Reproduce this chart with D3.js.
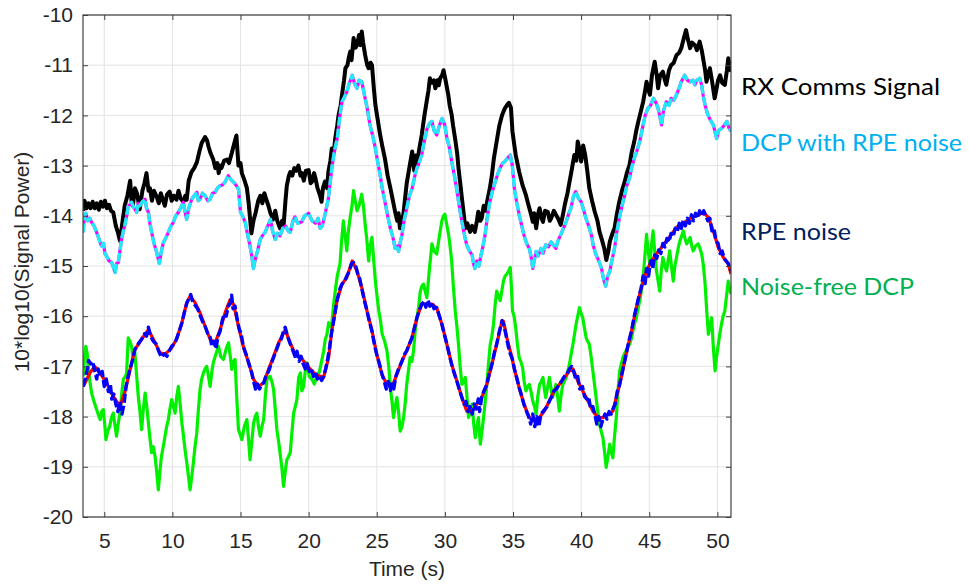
<!DOCTYPE html>
<html>
<head>
<meta charset="utf-8">
<script src="https://d3js.org/d3.v7.min.js"></script>
<style>
  body { margin: 0; background: #fff; }
  svg { display: block; }
</style>
</head>
<body>
<script>
var W = 969, H = 584;
var margin = {left: 83, top: 15, right: 238, bottom: 67};
var width = W - margin.left - margin.right,   // 648
  height = H - margin.top - margin.bottom;    // 502

// tick values
var xTicks = [5, 10, 15, 20, 25, 30, 35, 40, 45, 50];
var yTicks = [-20, -19, -18, -17, -16, -15, -14, -13, -12, -11, -10];

// RX Comms Signal (black) [time s, dB]
var rxComms = [[3.45,-13.9],[3.55,-13.7],[3.7,-13.85],[3.85,-13.75],[4.0,-13.85],[4.15,-13.72],[4.3,-13.85],[4.45,-13.75],[4.6,-13.88],[4.75,-13.72],[4.9,-13.82],[5.05,-13.7],[5.2,-13.85],[5.35,-13.78],[5.5,-13.9],[5.66,-13.93],[5.85,-14.2],[6.0,-14.33],[6.15,-14.5],[6.3,-14.2],[6.5,-13.8],[6.7,-13.6],[6.9,-13.3],[7.0,-13.7],[7.1,-13.8],[7.25,-13.45],[7.4,-13.55],[7.6,-13.87],[7.8,-13.5],[7.95,-13.35],[8.1,-13.15],[8.25,-13.5],[8.35,-13.45],[8.5,-13.7],[8.65,-13.5],[8.85,-13.62],[9.0,-13.75],[9.15,-13.55],[9.3,-13.68],[9.45,-13.8],[9.6,-13.58],[9.8,-13.52],[9.95,-13.7],[10.1,-13.6],[10.3,-13.68],[10.45,-13.5],[10.6,-13.65],[10.8,-13.72],[10.95,-13.6],[11.05,-13.68],[11.2,-13.3],[11.4,-13.13],[11.6,-13.05],[11.8,-12.93],[12.0,-12.7],[12.15,-12.55],[12.4,-12.43],[12.55,-12.5],[12.65,-12.62],[12.8,-12.75],[13.0,-12.88],[13.15,-13.05],[13.3,-12.95],[13.4,-13.15],[13.5,-13.0],[13.6,-13.05],[13.8,-12.9],[14.0,-12.88],[14.15,-12.95],[14.36,-12.75],[14.5,-12.6],[14.7,-12.4],[14.85,-13.0],[15.0,-12.95],[15.1,-13.15],[15.3,-13.3],[15.47,-13.45],[15.6,-13.75],[15.7,-14.05],[15.8,-14.35],[15.95,-14.1],[16.1,-13.95],[16.3,-13.7],[16.45,-13.6],[16.6,-13.75],[16.75,-13.55],[16.9,-13.68],[17.05,-13.8],[17.2,-13.95],[17.4,-14.07],[17.55,-13.9],[17.7,-14.1],[17.9,-14.25],[18.05,-14.1],[18.16,-14.2],[18.3,-13.7],[18.4,-13.4],[18.55,-13.2],[18.65,-13.13],[18.8,-13.2],[18.95,-13.05],[19.1,-13.1],[19.25,-13.0],[19.4,-13.2],[19.5,-13.15],[19.65,-13.3],[19.8,-13.1],[20.0,-13.09],[20.15,-13.35],[20.25,-13.32],[20.4,-13.15],[20.5,-13.25],[20.65,-13.45],[20.85,-13.6],[20.95,-13.72],[21.05,-13.45],[21.2,-13.32],[21.35,-13.45],[21.45,-13.12],[21.6,-12.9],[21.7,-12.66],[21.85,-12.75],[21.95,-12.46],[22.1,-12.2],[22.2,-11.99],[22.35,-11.8],[22.45,-11.59],[22.6,-11.3],[22.7,-11.06],[22.85,-11.0],[22.95,-10.85],[23.05,-10.73],[23.15,-10.9],[23.3,-10.46],[23.45,-10.65],[23.55,-10.6],[23.7,-10.4],[23.8,-10.6],[23.9,-10.33],[24.0,-10.55],[24.15,-10.8],[24.3,-11.0],[24.4,-11.06],[24.55,-10.95],[24.65,-11.0],[24.8,-11.5],[24.9,-11.79],[25.05,-12.05],[25.25,-12.39],[25.4,-12.6],[25.6,-12.86],[25.8,-13.2],[26.0,-13.45],[26.15,-13.65],[26.35,-13.92],[26.5,-14.1],[26.6,-13.95],[26.7,-14.25],[26.85,-14.05],[26.95,-13.98],[27.1,-13.6],[27.2,-13.35],[27.3,-13.19],[27.45,-12.95],[27.6,-12.72],[27.75,-13.1],[27.85,-12.8],[27.95,-12.99],[28.1,-12.7],[28.3,-12.39],[28.5,-12.0],[28.7,-11.66],[28.8,-11.5],[28.9,-11.26],[29.05,-11.35],[29.2,-11.3],[29.3,-11.46],[29.45,-11.3],[29.55,-11.4],[29.65,-11.26],[29.8,-11.2],[29.9,-11.1],[30.05,-11.3],[30.25,-11.59],[30.35,-11.8],[30.5,-11.99],[30.6,-12.2],[30.75,-12.46],[30.9,-12.75],[31.0,-13.05],[31.15,-13.4],[31.25,-13.65],[31.4,-14.0],[31.5,-14.25],[31.65,-14.15],[31.85,-14.32],[32.0,-14.2],[32.2,-14.32],[32.35,-14.1],[32.45,-13.92],[32.6,-14.1],[32.7,-14.05],[32.85,-13.8],[33.0,-13.9],[33.1,-13.72],[33.3,-13.45],[33.45,-13.19],[33.6,-12.85],[33.8,-12.52],[34.0,-12.2],[34.2,-11.99],[34.4,-11.86],[34.55,-11.8],[34.7,-11.75],[34.85,-11.85],[34.96,-12.32],[35.1,-12.6],[35.2,-12.79],[35.45,-13.12],[35.7,-13.39],[35.95,-13.59],[36.1,-13.75],[36.2,-13.85],[36.35,-14.0],[36.45,-14.12],[36.55,-13.95],[36.7,-14.25],[36.85,-13.95],[36.95,-13.85],[37.1,-14.05],[37.2,-14.12],[37.35,-13.9],[37.55,-13.92],[37.7,-14.1],[37.8,-14.05],[38.0,-13.9],[38.15,-13.98],[38.3,-14.05],[38.5,-14.18],[38.65,-14.0],[38.8,-13.78],[39.0,-13.55],[39.15,-13.32],[39.3,-13.1],[39.5,-12.79],[39.65,-12.9],[39.75,-12.52],[39.9,-12.7],[40.0,-12.92],[40.15,-12.6],[40.3,-12.79],[40.45,-13.1],[40.6,-13.45],[40.8,-13.7],[41.0,-13.92],[41.2,-14.1],[41.35,-14.32],[41.55,-14.5],[41.7,-14.65],[41.85,-14.88],[42.0,-14.7],[42.1,-14.52],[42.3,-14.35],[42.45,-14.25],[42.6,-14.0],[42.8,-13.72],[43.0,-13.5],[43.2,-13.32],[43.35,-13.15],[43.55,-12.99],[43.7,-12.75],[43.9,-12.52],[44.05,-12.3],[44.2,-12.12],[44.4,-11.9],[44.55,-11.73],[44.7,-11.5],[44.8,-11.33],[44.95,-11.5],[45.05,-11.59],[45.2,-11.2],[45.4,-10.93],[45.55,-11.2],[45.65,-11.46],[45.8,-11.2],[46.0,-11.13],[46.15,-11.3],[46.25,-11.39],[46.45,-11.1],[46.6,-11.0],[46.8,-10.95],[47.0,-10.8],[47.2,-10.75],[47.35,-10.66],[47.55,-10.45],[47.7,-10.3],[47.85,-10.5],[48.0,-10.66],[48.15,-10.55],[48.35,-10.6],[48.5,-10.7],[48.7,-10.53],[48.85,-10.7],[48.95,-10.86],[49.1,-11.1],[49.2,-11.33],[49.35,-11.15],[49.45,-11.06],[49.6,-11.3],[49.8,-11.66],[49.95,-11.45],[50.05,-11.3],[50.2,-11.2],[50.35,-11.35],[50.55,-11.39],[50.7,-11.1],[50.8,-10.86],[50.9,-11.0],[51.0,-11.13]];

// DCP with RPE noise (magenta solid under cyan dashed)
var dcpRpe = [[3.45,-14.33],[3.55,-14.0],[3.65,-13.95],[3.8,-14.1],[3.95,-14.05],[4.07,-14.13],[4.25,-14.2],[4.44,-14.33],[4.6,-14.45],[4.8,-14.6],[4.95,-14.55],[5.05,-14.75],[5.17,-14.8],[5.35,-14.9],[5.54,-14.93],[5.7,-15.05],[5.8,-15.13],[5.9,-14.95],[6.03,-14.93],[6.15,-14.7],[6.27,-14.47],[6.4,-14.3],[6.5,-14.2],[6.65,-14.0],[6.76,-13.8],[6.9,-13.78],[7.0,-13.73],[7.2,-13.85],[7.38,-13.93],[7.5,-13.75],[7.6,-13.8],[7.8,-13.72],[8.0,-13.67],[8.1,-13.85],[8.24,-13.93],[8.35,-14.15],[8.48,-14.33],[8.65,-14.55],[8.85,-14.73],[8.95,-14.85],[9.04,-14.95],[9.2,-14.7],[9.34,-14.53],[9.5,-14.45],[9.7,-14.33],[9.9,-14.2],[10.07,-14.13],[10.25,-14.0],[10.44,-13.93],[10.6,-13.85],[10.8,-13.73],[10.95,-13.95],[11.05,-14.07],[11.2,-13.85],[11.42,-13.67],[11.6,-13.6],[11.8,-13.53],[11.9,-13.7],[12.03,-13.67],[12.2,-13.55],[12.4,-13.6],[12.6,-13.7],[12.77,-13.67],[12.95,-13.55],[13.14,-13.53],[13.3,-13.45],[13.5,-13.4],[13.7,-13.38],[13.87,-13.33],[14.0,-13.25],[14.1,-13.2],[14.3,-13.28],[14.5,-13.33],[14.7,-13.4],[14.85,-13.47],[15.0,-13.93],[15.15,-14.0],[15.35,-14.13],[15.5,-14.35],[15.7,-14.6],[15.85,-14.85],[15.95,-15.05],[16.08,-14.87],[16.25,-14.7],[16.45,-14.47],[16.6,-14.4],[16.8,-14.33],[17.0,-14.2],[17.2,-14.07],[17.35,-14.3],[17.55,-14.47],[17.7,-14.35],[17.9,-14.4],[18.1,-14.25],[18.3,-14.2],[18.5,-14.3],[18.65,-14.33],[18.85,-14.1],[19.0,-14.02],[19.2,-14.15],[19.5,-14.12],[19.7,-14.0],[20.0,-13.95],[20.25,-14.1],[20.5,-14.15],[20.7,-14.05],[20.85,-14.25],[21.0,-14.2],[21.2,-13.98],[21.45,-13.65],[21.7,-13.05],[21.9,-12.7],[22.1,-12.46],[22.3,-12.0],[22.45,-11.73],[22.6,-11.65],[22.8,-11.53],[23.0,-11.35],[23.2,-11.2],[23.35,-11.35],[23.55,-11.46],[23.7,-11.3],[23.9,-11.33],[24.1,-11.6],[24.3,-11.86],[24.5,-12.19],[24.7,-12.4],[24.9,-12.66],[25.05,-12.9],[25.25,-13.19],[25.4,-13.45],[25.6,-13.72],[25.8,-14.0],[26.0,-14.25],[26.2,-14.45],[26.35,-14.65],[26.5,-14.6],[26.6,-14.71],[26.75,-14.5],[26.85,-14.38],[27.0,-14.1],[27.2,-13.85],[27.4,-13.6],[27.6,-13.45],[27.8,-13.2],[27.95,-13.05],[28.1,-12.95],[28.3,-12.79],[28.5,-12.5],[28.7,-12.26],[28.9,-12.15],[29.05,-12.12],[29.2,-12.3],[29.4,-12.39],[29.6,-12.2],[29.8,-12.06],[30.0,-12.2],[30.15,-12.46],[30.3,-12.6],[30.5,-12.92],[30.7,-13.2],[30.9,-13.52],[31.05,-13.8],[31.25,-14.12],[31.45,-14.4],[31.6,-14.58],[31.8,-14.7],[32.0,-14.78],[32.1,-14.95],[32.2,-15.05],[32.35,-14.9],[32.5,-15.0],[32.6,-14.85],[32.8,-14.6],[32.95,-14.38],[33.1,-14.05],[33.3,-13.72],[33.5,-13.5],[33.7,-13.32],[33.9,-13.15],[34.05,-13.05],[34.25,-12.95],[34.4,-12.92],[34.6,-12.85],[34.8,-12.79],[34.95,-13.0],[35.1,-13.45],[35.25,-13.7],[35.45,-13.98],[35.6,-14.15],[35.8,-14.38],[36.0,-14.55],[36.2,-14.65],[36.35,-14.85],[36.45,-15.05],[36.55,-14.9],[36.7,-14.71],[36.85,-14.8],[37.05,-14.65],[37.2,-14.75],[37.4,-14.58],[37.6,-14.62],[37.8,-14.52],[38.0,-14.6],[38.15,-14.65],[38.3,-14.5],[38.5,-14.38],[38.7,-14.25],[38.9,-14.12],[39.1,-13.95],[39.25,-13.85],[39.45,-13.6],[39.6,-13.52],[39.8,-13.65],[40.0,-13.72],[40.15,-13.85],[40.35,-14.05],[40.55,-14.2],[40.75,-14.38],[40.9,-14.6],[41.1,-14.78],[41.3,-14.9],[41.5,-15.05],[41.6,-15.2],[41.7,-15.31],[41.8,-15.4],[41.95,-15.2],[42.1,-15.11],[42.25,-14.9],[42.45,-14.65],[42.6,-14.35],[42.8,-14.05],[43.0,-13.8],[43.2,-13.59],[43.35,-13.4],[43.55,-13.25],[43.7,-13.05],[43.9,-12.86],[44.1,-12.7],[44.3,-12.52],[44.55,-12.19],[44.7,-12.0],[44.9,-11.86],[45.1,-11.8],[45.3,-11.66],[45.5,-11.75],[45.65,-11.86],[45.8,-12.05],[45.9,-12.19],[46.05,-11.9],[46.25,-11.73],[46.45,-11.8],[46.6,-11.66],[46.8,-11.7],[47.0,-11.59],[47.2,-11.45],[47.35,-11.33],[47.5,-11.25],[47.6,-11.2],[47.8,-11.3],[48.0,-11.33],[48.2,-11.3],[48.35,-11.39],[48.5,-11.3],[48.7,-11.26],[48.85,-11.4],[48.95,-11.59],[49.1,-11.8],[49.3,-11.99],[49.5,-12.1],[49.7,-12.19],[49.85,-12.35],[49.95,-12.46],[50.1,-12.3],[50.3,-12.26],[50.5,-12.2],[50.7,-12.12],[50.85,-12.25],[51.0,-12.32]];

// Noise-free DCP (green)
var noiseFree = [[3.45,-17.2],[3.55,-16.8],[3.65,-16.6],[3.75,-16.75],[3.82,-17.0],[3.95,-17.3],[4.07,-17.53],[4.25,-17.7],[4.44,-17.86],[4.55,-17.95],[4.7,-18.06],[4.82,-17.9],[4.93,-17.86],[5.05,-18.2],[5.12,-18.46],[5.25,-18.3],[5.4,-18.19],[5.55,-18.0],[5.66,-17.93],[5.8,-18.2],[5.9,-18.39],[6.05,-18.1],[6.15,-17.93],[6.3,-17.5],[6.4,-17.26],[6.55,-17.2],[6.64,-17.13],[6.76,-16.43],[6.88,-16.5],[7.0,-16.6],[7.12,-16.85],[7.25,-16.73],[7.38,-17.2],[7.5,-17.6],[7.62,-17.9],[7.74,-18.26],[7.85,-17.9],[8.0,-17.53],[8.12,-17.8],[8.24,-18.13],[8.36,-18.45],[8.48,-18.72],[8.6,-18.6],[8.73,-18.79],[8.85,-19.1],[8.97,-19.46],[9.08,-19.1],[9.2,-18.79],[9.33,-18.6],[9.46,-18.39],[9.58,-18.2],[9.7,-18.06],[9.82,-17.85],[9.95,-17.66],[10.08,-17.8],[10.2,-17.93],[10.32,-17.6],[10.44,-17.4],[10.57,-17.75],[10.7,-18.13],[10.82,-18.4],[10.93,-18.66],[11.05,-18.9],[11.18,-19.19],[11.3,-19.46],[11.42,-19.2],[11.54,-18.92],[11.66,-18.6],[11.79,-18.33],[11.9,-17.9],[12.03,-17.46],[12.15,-17.25],[12.28,-17.13],[12.4,-17.05],[12.52,-17.0],[12.65,-17.2],[12.77,-17.4],[12.9,-17.1],[13.0,-16.93],[13.2,-16.75],[13.38,-16.6],[13.55,-16.8],[13.75,-16.86],[13.95,-16.65],[14.12,-16.53],[14.25,-16.8],[14.36,-17.06],[14.48,-16.9],[14.6,-16.86],[14.72,-17.6],[14.85,-18.26],[14.97,-18.35],[15.1,-18.46],[15.28,-18.2],[15.47,-18.06],[15.6,-18.5],[15.7,-18.86],[15.83,-18.5],[15.96,-18.13],[16.08,-18.0],[16.2,-17.93],[16.32,-18.2],[16.45,-18.39],[16.57,-18.2],[16.7,-18.06],[16.82,-17.6],[16.94,-17.26],[17.06,-17.22],[17.18,-17.2],[17.3,-17.3],[17.43,-17.46],[17.55,-17.85],[17.67,-18.26],[17.8,-18.5],[17.9,-18.72],[18.03,-19.0],[18.16,-19.39],[18.28,-19.1],[18.4,-18.86],[18.52,-18.8],[18.65,-18.72],[18.78,-18.3],[18.9,-17.93],[19.02,-17.8],[19.14,-17.66],[19.27,-17.22],[19.4,-17.13],[19.5,-17.49],[19.63,-17.4],[19.75,-17.1],[19.88,-16.93],[20.05,-17.2],[20.25,-17.26],[20.42,-17.35],[20.6,-17.2],[20.8,-17.1],[20.98,-16.86],[21.1,-16.7],[21.22,-16.46],[21.35,-16.36],[21.47,-16.13],[21.6,-16.2],[21.7,-16.16],[21.82,-15.8],[21.95,-15.5],[22.1,-15.2],[22.3,-14.96],[22.42,-14.5],[22.55,-14.1],[22.68,-14.4],[22.8,-14.7],[22.92,-14.3],[23.05,-14.03],[23.18,-13.8],[23.3,-13.5],[23.42,-13.7],[23.55,-13.9],[23.7,-13.8],[23.9,-13.57],[24.02,-13.8],[24.15,-14.17],[24.28,-14.5],[24.4,-14.9],[24.52,-14.6],[24.65,-14.43],[24.78,-14.9],[24.9,-15.3],[25.02,-15.6],[25.15,-15.89],[25.28,-16.1],[25.4,-16.36],[25.58,-16.5],[25.75,-16.69],[25.88,-17.0],[26.0,-17.42],[26.12,-17.7],[26.23,-18.02],[26.35,-17.8],[26.48,-17.62],[26.6,-17.9],[26.72,-18.29],[26.85,-18.2],[26.97,-18.02],[27.1,-17.7],[27.2,-17.36],[27.32,-17.1],[27.45,-16.82],[27.58,-16.9],[27.7,-16.69],[27.82,-16.3],[27.95,-16.03],[28.08,-15.8],[28.2,-15.5],[28.32,-15.4],[28.43,-15.36],[28.55,-15.5],[28.68,-15.63],[28.85,-15.1],[29.05,-14.56],[29.2,-14.7],[29.4,-14.76],[29.6,-14.4],[29.78,-14.1],[29.9,-14.0],[30.0,-13.97],[30.12,-14.15],[30.27,-14.37],[30.38,-14.6],[30.5,-14.9],[30.62,-15.4],[30.76,-15.89],[30.88,-16.2],[31.0,-16.56],[31.12,-17.0],[31.25,-17.36],[31.38,-17.3],[31.5,-17.22],[31.62,-17.6],[31.74,-18.02],[31.87,-17.9],[32.0,-17.75],[32.1,-18.1],[32.23,-18.42],[32.35,-18.2],[32.47,-18.02],[32.53,-18.3],[32.6,-18.55],[32.72,-18.3],[32.84,-18.02],[32.96,-17.7],[33.08,-17.36],[33.2,-16.95],[33.33,-16.56],[33.45,-16.4],[33.57,-16.16],[33.68,-15.8],[33.8,-15.5],[33.93,-15.6],[34.06,-15.69],[34.18,-15.5],[34.3,-15.3],[34.42,-15.2],[34.55,-15.16],[34.68,-15.1],[34.8,-15.03],[34.9,-15.5],[34.96,-15.89],[35.08,-16.0],[35.2,-16.23],[35.32,-16.55],[35.45,-16.82],[35.57,-16.9],[35.7,-17.02],[35.82,-17.3],[35.95,-17.49],[36.08,-17.4],[36.2,-17.36],[36.32,-17.5],[36.45,-17.69],[36.58,-17.8],[36.7,-17.95],[36.82,-17.6],[36.95,-17.36],[37.08,-17.3],[37.2,-17.22],[37.3,-17.45],[37.4,-17.62],[37.55,-17.4],[37.67,-17.22],[37.8,-17.45],[37.9,-17.62],[38.02,-17.5],[38.15,-17.36],[38.28,-17.6],[38.4,-17.89],[38.52,-17.6],[38.65,-17.36],[38.77,-17.3],[38.9,-17.22],[39.02,-17.1],[39.14,-16.96],[39.27,-16.75],[39.4,-16.56],[39.52,-16.35],[39.63,-16.16],[39.75,-16.0],[39.88,-15.83],[40.0,-15.95],[40.12,-16.03],[40.25,-16.25],[40.37,-16.43],[40.48,-16.5],[40.6,-16.56],[40.73,-16.8],[40.86,-17.09],[40.98,-17.35],[41.1,-17.62],[41.22,-17.9],[41.35,-18.15],[41.48,-18.3],[41.6,-18.42],[41.72,-18.7],[41.84,-19.01],[41.97,-18.8],[42.1,-18.55],[42.22,-18.7],[42.33,-18.82],[42.45,-18.4],[42.58,-18.02],[42.7,-17.5],[42.83,-17.09],[42.95,-16.95],[43.07,-16.82],[43.18,-16.75],[43.3,-16.69],[43.43,-16.6],[43.56,-16.56],[43.68,-16.45],[43.8,-16.3],[43.92,-16.15],[44.05,-16.03],[44.18,-15.85],[44.3,-15.69],[44.42,-15.5],[44.55,-15.23],[44.68,-14.8],[44.8,-14.37],[44.92,-14.7],[45.04,-14.96],[45.16,-14.6],[45.28,-14.3],[45.4,-14.7],[45.53,-15.1],[45.65,-15.3],[45.77,-15.5],[45.88,-15.1],[46.0,-14.83],[46.14,-15.0],[46.27,-15.1],[46.38,-14.9],[46.5,-14.7],[46.63,-15.0],[46.76,-15.3],[46.88,-15.0],[47.0,-14.83],[47.12,-14.65],[47.25,-14.5],[47.38,-14.4],[47.5,-14.3],[47.62,-14.45],[47.74,-14.56],[47.87,-14.5],[48.0,-14.43],[48.12,-14.6],[48.23,-14.7],[48.4,-14.6],[48.6,-14.56],[48.72,-14.65],[48.85,-14.76],[48.98,-15.0],[49.1,-15.36],[49.22,-15.9],[49.34,-16.36],[49.46,-16.2],[49.58,-16.03],[49.7,-16.6],[49.83,-17.09],[49.95,-16.8],[50.07,-16.56],[50.18,-16.35],[50.3,-16.16],[50.42,-16.0],[50.55,-15.89],[50.67,-15.6],[50.8,-15.3],[50.9,-15.45],[51.0,-15.56]];

// RPE noise, smooth (red solid)
var rpeSmooth = [[3.45,-17.4],[3.95,-17.13],[4.3,-17.0],[4.68,-17.13],[5.17,-17.33],[5.66,-17.6],[6.15,-17.79],[6.5,-17.53],[6.9,-17.06],[7.25,-16.66],[7.74,-16.46],[8.24,-16.27],[8.6,-16.46],[9.1,-16.73],[9.46,-16.76],[9.95,-16.63],[10.3,-16.46],[10.7,-16.13],[11.05,-15.73],[11.3,-15.6],[11.67,-15.73],[12.03,-15.93],[12.4,-16.2],[12.77,-16.46],[13.14,-16.53],[13.5,-16.27],[13.87,-15.93],[14.24,-15.67],[14.5,-15.77],[14.85,-16.2],[15.2,-16.6],[15.6,-16.93],[15.96,-17.26],[16.3,-17.4],[16.7,-17.33],[17.06,-17.06],[17.43,-16.8],[17.8,-16.53],[18.28,-16.27],[18.65,-16.53],[19.0,-16.75],[19.5,-16.85],[20.0,-17.02],[20.5,-17.16],[21.1,-17.22],[21.47,-16.82],[21.7,-16.29],[22.08,-15.69],[22.45,-15.36],[22.8,-15.23],[23.2,-14.9],[23.55,-15.1],[23.9,-15.43],[24.28,-15.89],[24.65,-16.29],[25.0,-16.76],[25.38,-17.16],[25.75,-17.36],[26.1,-17.42],[26.48,-17.16],[26.85,-16.89],[27.2,-16.69],[27.58,-16.43],[27.95,-16.03],[28.3,-15.76],[28.7,-15.76],[29.05,-15.76],[29.4,-15.83],[29.78,-16.16],[30.15,-16.56],[30.5,-16.96],[30.88,-17.29],[31.25,-17.62],[31.6,-17.89],[32.0,-17.89],[32.35,-17.75],[32.7,-17.62],[33.08,-17.36],[33.45,-16.96],[33.8,-16.56],[34.2,-16.09],[34.3,-16.1],[34.55,-16.43],[34.9,-16.8],[35.1,-17.05],[35.45,-17.42],[35.8,-17.75],[36.2,-18.02],[36.55,-18.09],[36.93,-18.02],[37.3,-17.89],[37.67,-17.69],[38.0,-17.49],[38.4,-17.36],[38.77,-17.22],[39.14,-17.09],[39.4,-17.05],[39.75,-17.29],[40.12,-17.49],[40.5,-17.69],[40.86,-17.89],[41.23,-18.02],[41.6,-18.02],[42.0,-17.95],[42.33,-17.89],[42.58,-17.62],[42.95,-17.22],[43.3,-16.76],[43.7,-16.29],[44.05,-15.83],[44.42,-15.43],[44.8,-15.1],[45.16,-14.9],[45.53,-14.76],[45.9,-14.63],[46.27,-14.5],[46.63,-14.37],[47.0,-14.23],[47.37,-14.17],[47.74,-14.1],[48.1,-14.03],[48.48,-14.0],[48.97,-13.93],[49.34,-14.03],[49.7,-14.3],[50.07,-14.63],[50.44,-14.83],[50.8,-14.96],[51.0,-15.16]];

// RPE noise, measured (blue dashed)
var rpeNoise = [[3.45,-17.4],[3.6,-17.25],[3.75,-17.05],[3.85,-16.88],[4.0,-16.95],[4.15,-16.9],[4.3,-17.1],[4.45,-17.25],[4.55,-17.05],[4.7,-17.2],[4.85,-17.1],[5.0,-17.4],[5.15,-17.25],[5.3,-17.5],[5.45,-17.35],[5.55,-17.65],[5.7,-17.55],[5.85,-17.75],[6.0,-17.9],[6.15,-17.7],[6.3,-17.95],[6.45,-17.75],[6.6,-17.4],[6.75,-17.2],[6.9,-17.05],[7.1,-16.85],[7.25,-16.66],[7.5,-16.55],[7.74,-16.46],[7.95,-16.35],[8.1,-16.4],[8.24,-16.22],[8.4,-16.4],[8.6,-16.5],[8.8,-16.55],[9.0,-16.7],[9.2,-16.82],[9.4,-16.75],[9.6,-16.8],[9.8,-16.68],[9.95,-16.6],[10.15,-16.55],[10.3,-16.46],[10.5,-16.3],[10.7,-16.13],[10.9,-15.9],[11.05,-15.75],[11.2,-15.65],[11.35,-15.57],[11.5,-15.72],[11.67,-15.78],[11.85,-15.85],[12.03,-15.98],[12.2,-16.1],[12.4,-16.2],[12.6,-16.35],[12.77,-16.42],[12.9,-16.6],[13.05,-16.5],[13.2,-16.65],[13.35,-16.4],[13.5,-16.3],[13.65,-16.1],[13.8,-15.95],[13.95,-16.0],[14.1,-15.8],[14.25,-15.75],[14.35,-15.58],[14.45,-15.85],[14.6,-15.8],[14.75,-16.05],[14.9,-16.25],[15.05,-16.35],[15.2,-16.6],[15.4,-16.75],[15.6,-16.93],[15.8,-17.1],[15.96,-17.3],[16.1,-17.45],[16.25,-17.35],[16.4,-17.45],[16.55,-17.35],[16.7,-17.33],[16.85,-17.2],[17.06,-17.1],[17.25,-16.95],[17.43,-16.82],[17.6,-16.7],[17.8,-16.55],[18.0,-16.45],[18.15,-16.3],[18.28,-16.22],[18.45,-16.4],[18.65,-16.55],[18.8,-16.65],[19.0,-16.8],[19.15,-16.7],[19.3,-16.9],[19.45,-16.8],[19.6,-16.95],[19.75,-17.05],[19.9,-16.95],[20.05,-17.1],[20.2,-17.05],[20.35,-17.2],[20.5,-17.12],[20.65,-17.25],[20.8,-17.18],[20.95,-17.28],[21.1,-17.2],[21.25,-17.05],[21.4,-16.85],[21.55,-16.6],[21.7,-16.3],[21.9,-16.0],[22.08,-15.69],[22.3,-15.45],[22.45,-15.36],[22.65,-15.3],[22.8,-15.2],[23.0,-15.1],[23.15,-14.95],[23.3,-14.93],[23.45,-15.0],[23.6,-15.15],[23.75,-15.25],[23.9,-15.45],[24.1,-15.7],[24.28,-15.89],[24.45,-16.1],[24.65,-16.3],[24.85,-16.6],[25.0,-16.76],[25.2,-16.95],[25.38,-17.15],[25.55,-17.3],[25.7,-17.45],[25.85,-17.3],[26.0,-17.48],[26.1,-17.35],[26.25,-17.45],[26.4,-17.2],[26.6,-17.05],[26.85,-16.9],[27.05,-16.75],[27.2,-16.69],[27.4,-16.55],[27.58,-16.43],[27.75,-16.25],[27.95,-16.03],[28.1,-15.9],[28.3,-15.76],[28.5,-15.7],[28.6,-15.82],[28.75,-15.68],[28.9,-15.8],[29.05,-15.72],[29.2,-15.85],[29.4,-15.83],[29.6,-16.0],[29.78,-16.16],[29.95,-16.35],[30.15,-16.56],[30.35,-16.8],[30.5,-16.96],[30.7,-17.15],[30.88,-17.29],[31.05,-17.45],[31.25,-17.62],[31.4,-17.75],[31.55,-17.7],[31.7,-17.9],[31.85,-17.8],[32.0,-17.95],[32.15,-17.75],[32.3,-17.85],[32.45,-17.65],[32.55,-17.9],[32.7,-17.62],[32.85,-17.5],[33.08,-17.36],[33.25,-17.15],[33.45,-16.96],[33.65,-16.7],[33.8,-16.56],[34.0,-16.3],[34.2,-16.09],[34.35,-16.2],[34.5,-16.4],[34.65,-16.6],[34.8,-16.75],[34.95,-16.85],[35.1,-17.05],[35.25,-17.2],[35.45,-17.42],[35.6,-17.55],[35.8,-17.75],[36.0,-17.9],[36.15,-18.0],[36.3,-18.15],[36.45,-17.95],[36.6,-18.2],[36.75,-18.0],[36.9,-18.2],[37.05,-17.95],[37.2,-17.9],[37.35,-17.85],[37.5,-17.8],[37.67,-17.69],[37.85,-17.6],[38.0,-17.49],[38.2,-17.45],[38.4,-17.36],[38.6,-17.28],[38.77,-17.2],[38.95,-17.15],[39.14,-17.05],[39.3,-17.0],[39.45,-17.1],[39.6,-17.25],[39.75,-17.2],[39.9,-17.45],[40.1,-17.4],[40.25,-17.6],[40.4,-17.65],[40.55,-17.6],[40.7,-17.85],[40.86,-17.8],[41.0,-17.95],[41.15,-18.15],[41.3,-18.0],[41.45,-18.2],[41.6,-18.05],[41.75,-17.95],[41.9,-18.05],[42.05,-17.9],[42.2,-17.95],[42.33,-17.85],[42.5,-17.75],[42.65,-17.5],[42.8,-17.4],[42.95,-17.2],[43.15,-16.95],[43.3,-16.76],[43.5,-16.5],[43.7,-16.29],[43.9,-16.0],[44.05,-15.83],[44.2,-15.65],[44.4,-15.45],[44.55,-15.2],[44.7,-15.35],[44.8,-15.05],[44.95,-15.2],[45.1,-14.9],[45.25,-15.05],[45.4,-14.78],[45.55,-14.85],[45.7,-14.68],[45.85,-14.75],[46.0,-14.55],[46.15,-14.62],[46.3,-14.45],[46.45,-14.52],[46.6,-14.35],[46.75,-14.42],[46.9,-14.25],[47.05,-14.32],[47.2,-14.15],[47.35,-14.25],[47.5,-14.08],[47.65,-14.2],[47.8,-14.05],[47.95,-14.15],[48.1,-13.98],[48.25,-14.1],[48.4,-13.95],[48.55,-14.05],[48.7,-13.9],[48.85,-14.0],[49.0,-13.9],[49.15,-14.0],[49.3,-14.1],[49.45,-14.05],[49.6,-14.3],[49.75,-14.25],[49.9,-14.5],[50.05,-14.55],[50.2,-14.75],[50.35,-14.7],[50.5,-14.85],[50.65,-14.9],[50.8,-14.95],[51.0,-15.1]];

// legend text
var legendItems = [
  {label: "RX Comms Signal", color: "#000000", y: 95, w: 199},
  {label: "DCP with RPE noise", color: "#00b0f0", y: 151, w: 221},
  {label: "RPE noise", color: "#002060", y: 240, w: 110},
  {label: "Noise-free DCP", color: "#00b050", y: 295, w: 173}
];

var svg = d3.select("body").append("svg").attr("width", W).attr("height", H);

var x = d3.scaleLinear().domain([3.44, 51]).range([0, width]);
var y = d3.scaleLinear().domain([-20, -10]).range([height, 0]);

var g = svg.append("g").attr("transform", "translate(" + margin.left + "," + margin.top + ")");

//grid
g.append("g").selectAll("line").data(xTicks).enter().append("line")
  .attr("x1", d => x(d)).attr("x2", d => x(d)).attr("y1", 0).attr("y2", height)
  .attr("stroke", "#e3e3e3").attr("stroke-width", 1);
g.append("g").selectAll("line").data(yTicks).enter().append("line")
  .attr("y1", d => y(d)).attr("y2", d => y(d)).attr("x1", 0).attr("x2", width)
  .attr("stroke", "#e3e3e3").attr("stroke-width", 1);

g.append("clipPath").attr("id", "clip").append("rect")
  .attr("width", width).attr("height", height);

var line = d3.line().x(d => x(d[0])).y(d => y(d[1]));
var plot = g.append("g").attr("clip-path", "url(#clip)");

function draw(data, color, w, dash) {
  var p = plot.append("path").datum(data)
    .attr("d", line).attr("fill", "none")
    .attr("stroke", color).attr("stroke-width", w)
    .attr("stroke-linejoin", "round");
  if (dash) p.attr("stroke-dasharray", dash);
}
draw(rxComms, "#000000", 4);
draw(dcpRpe, "#ff00ff", 3.2);
draw(dcpRpe, "#22e8f8", 3.4, "9,3");
draw(noiseFree, "#00f000", 3.2);
draw(rpeSmooth, "#ff0000", 3.2);
draw(rpeNoise, "#0000ff", 3.4, "9,3");

//axes, ticks pointing inward like MATLAB, plain hyphen minus
var font = "'Liberation Sans', Arial, Helvetica, sans-serif";
var fmt = d => String(d);
function styleAxis(sel) {
  sel.select(".domain").remove();
  sel.selectAll(".tick line").attr("stroke", "#404040");
  sel.selectAll("text").attr("fill", "#262626").style("font-family", font).style("font-size", "21px");
}
g.append("g").attr("transform", "translate(0," + height + ")")
  .call(d3.axisBottom(x).tickValues(xTicks).tickFormat(fmt).tickSizeInner(-5).tickSizeOuter(0).tickPadding(16))
  .call(styleAxis);
g.append("g")
  .call(d3.axisLeft(y).tickValues(yTicks).tickFormat(fmt).tickSizeInner(-5).tickSizeOuter(0).tickPadding(10))
  .call(styleAxis);
g.append("g")
  .call(d3.axisTop(x).tickValues(xTicks).tickSizeInner(-5).tickSizeOuter(0).tickFormat(""))
  .call(styleAxis);
g.append("g").attr("transform", "translate(" + width + ",0)")
  .call(d3.axisRight(y).tickValues(yTicks).tickSizeInner(-5).tickSizeOuter(0).tickFormat(""))
  .call(styleAxis);

g.append("rect").attr("width", width).attr("height", height)
  .attr("fill", "none").attr("stroke", "#404040").attr("stroke-width", 1.2);

//axis titles
svg.append("text").attr("x", 407).attr("y", 576)
  .attr("text-anchor", "middle").attr("fill", "#262626")
  .style("font-family", font).style("font-size", "21px").text("Time (s)");
svg.append("text").attr("transform", "translate(29,262) rotate(-90)")
  .attr("text-anchor", "middle").attr("fill", "#262626")
  .style("font-family", font).style("font-size", "21px").text("10*log10(Signal Power)");

//legend labels on the right
svg.append("g").selectAll("text").data(legendItems).enter().append("text")
  .attr("x", 741).attr("y", d => d.y)
  .attr("fill", d => d.color)
  .attr("textLength", d => d.w).attr("lengthAdjust", "spacingAndGlyphs")
  .style("font-family", "Lato, 'Open Sans', sans-serif").style("font-size", "24px")
  .text(d => d.label);
</script>
</body>
</html>
